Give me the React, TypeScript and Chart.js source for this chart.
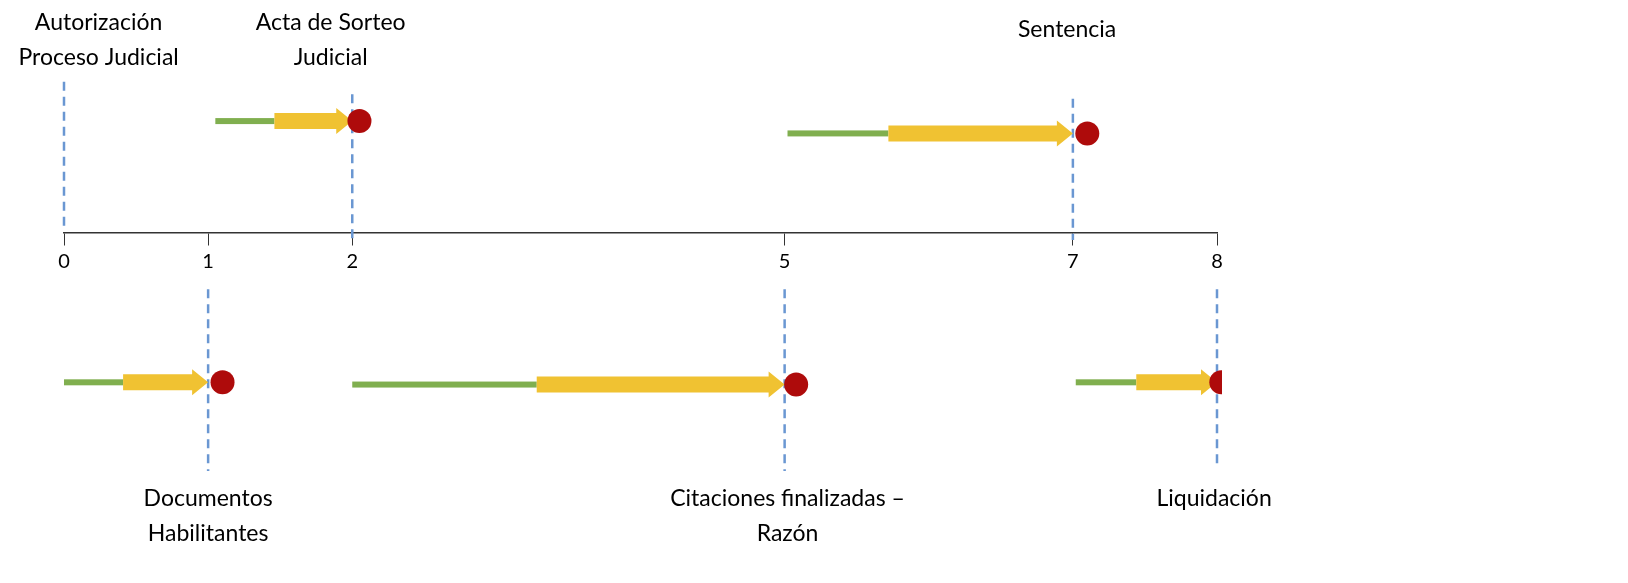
import React, { useEffect, useRef } from "react";
import { Chart, registerables } from "chart.js";
Chart.register(...registerables);

const tickValues = [0, 1, 2, 5, 7, 8];
// track: [greenStart, yellowStart, arrowEnd, dotX, y]
const tracks = [
  [1.05, 1.46, 2.0, 2.05, 1.0],
  [5.02, 5.72, 7.0, 7.1, 0.89],
  [0.0, 0.41, 1.0, 1.1, -1.33],
  [2.0, 3.28, 5.0, 5.08, -1.35],
  [7.02, 7.44, 8.0, 8.03, -1.33],
];
// milestones: [x, yFrom, yTo]
const milestones = [
  [0, 1.35, 0.04],
  [2, 1.24, -0.06],
  [7, 1.2, -0.06],
  [1, -0.5, -2.12],
  [5, -0.5, -2.12],
  [8, -0.5, -2.08],
];
const labels: [number, number, string[]][] = [
  [0.24, 1.88, ["Autorización", "Proceso Judicial"]],
  [1.85, 1.88, ["Acta de Sorteo", "Judicial"]],
  [6.96, 1.82, ["Sentencia"]],
  [1.0, -2.37, ["Documentos", "Habilitantes"]],
  [5.02, -2.37, ["Citaciones finalizadas –", "Razón"]],
  [7.98, -2.37, ["Liquidación"]],
];

const FONT = "Lato, 'Open Sans', sans-serif";

const timelinePlugin = {
  id: "timeline",
  afterDraw(chart: any) {
    const { ctx, scales } = chart;
    const xs = scales.x, ys = scales.y;
    const X = (v: number) => xs.getPixelForValue(v);
    const Y = (v: number) => ys.getPixelForValue(v);
    ctx.save();
    ctx.strokeStyle = "#6A97D2";
    ctx.lineWidth = 2.5;
    ctx.setLineDash([9, 6]);
    milestones.forEach(([x, a, b]) => {
      ctx.beginPath();
      ctx.moveTo(X(x), Y(a));
      ctx.lineTo(X(x), Y(b));
      ctx.stroke();
    });
    ctx.setLineDash([]);
    tracks.forEach(([g, yl, e, d, y]) => {
      const py = Y(y);
      ctx.fillStyle = "#80AF4F";
      ctx.fillRect(X(g), py - 3, X(yl) - X(g), 6);
      const x0 = X(yl), x1 = X(e), head = 16;
      ctx.fillStyle = "#F0C232";
      ctx.beginPath();
      ctx.moveTo(x0, py - 8);
      ctx.lineTo(x1 - head, py - 8);
      ctx.lineTo(x1 - head, py - 13);
      ctx.lineTo(x1, py);
      ctx.lineTo(x1 - head, py + 13);
      ctx.lineTo(x1 - head, py + 8);
      ctx.lineTo(x0, py + 8);
      ctx.closePath();
      ctx.fill();
      ctx.save();
      ctx.beginPath();
      ctx.rect(0, 0, chart.chartArea.right + 5, chart.height);
      ctx.clip();
      ctx.fillStyle = "#AE0B0B";
      ctx.beginPath();
      ctx.arc(X(d), py, 12, 0, Math.PI * 2);
      ctx.fill();
      ctx.restore();
    });
    ctx.fillStyle = "#000";
    ctx.font = `23px ${FONT}`;
    ctx.textAlign = "center";
    ctx.textBaseline = "middle";
    labels.forEach(([x, y, lines]) => {
      lines.forEach((t, i) => ctx.fillText(t, X(x), Y(y) + i * 35));
    });
    ctx.restore();
  },
};

export default function App() {
  const ref = useRef<HTMLCanvasElement>(null);
  useEffect(() => {
    const chart = new Chart(ref.current!, {
      type: "scatter",
      data: { datasets: [{ data: [] }] },
      options: {
        animation: false,
        responsive: true,
        maintainAspectRatio: false,
        layout: { padding: { left: 64, right: 411, top: 0, bottom: 0 } },
        plugins: { legend: { display: false }, tooltip: { enabled: false } },
        scales: {
          x: {
            type: "linear",
            min: 0,
            max: 8,
            position: { y: 0 } as any,
            afterBuildTicks: (s: any) => {
              s.ticks = tickValues.map((v) => ({ value: v }));
            },
            grid: { drawOnChartArea: false, tickLength: 12, color: "#333", lineWidth: 1 },
            border: { color: "#333", width: 1.5 },
            ticks: { color: "#000", font: { size: 20, family: FONT }, padding: 4, maxRotation: 0 },
          },
          y: { display: false, min: -3.12, max: 2.08 },
        },
      },
      plugins: [timelinePlugin],
    });
    return () => chart.destroy();
  }, []);
  return (
    <div style={{ position: "fixed", left: 0, top: 0, width: 1628, height: 583, background: "#fff" }}>
      <canvas ref={ref} />
    </div>
  );
}
